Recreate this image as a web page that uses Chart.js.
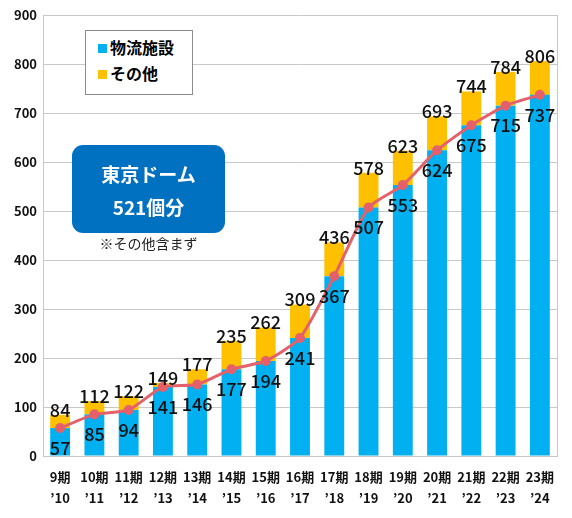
<!DOCTYPE html>
<html>
<head>
<meta charset="utf-8">
<script src="https://cdn.jsdelivr.net/npm/chart.js@4"></script>
<style>
  body { margin: 0; background: #fff; }
  #wrap { position: relative; width: 572px; height: 518px; font-family: "Noto Sans CJK JP", sans-serif; }
  #legend {
    position: absolute; left: 85px; top: 30px; width: 106px; height: 63px;
    border: 1px solid #8c8c8c; background: #fff; font-weight: bold; font-size: 16px;
  }
  #legend .item { position: absolute; left: 12px; line-height: 20px; }
  #legend .sw { display: inline-block; width: 9px; height: 9px; margin-right: 3px; vertical-align: 1px; }
  #dome {
    position: absolute; left: 72px; top: 145px; width: 153px; height: 88px;
    background: #0070c0; border-radius: 11px; color: #fff; font-weight: bold;
    font-size: 19px; text-align: center;
  }
  #note { position: absolute; left: 72px; width: 153px; top: 233px; text-align: center; font-size: 14px; color: #222; }
</style>
</head>
<body>
<div id="wrap">
  <canvas id="chart" width="572" height="518"></canvas>
  <div id="legend">
    <div class="item" style="top:6px"><span class="sw" style="background:#00b0f0"></span>物流施設</div>
    <div class="item" style="top:32px"><span class="sw" style="background:#ffc000"></span>その他</div>
  </div>
  <div id="dome">
    <div style="position:absolute;left:0;right:0;top:17px;line-height:24px">東京ドーム</div>
    <div style="position:absolute;left:0;right:0;top:50px;line-height:24px">521個分</div>
  </div>
  <div id="note">※その他含まず</div>
</div>
<script>
const periods = ['9期', '10期', '11期', '12期', '13期', '14期', '15期', '16期', '17期', '18期', '19期', '20期', '21期', '22期', '23期'];
const years = ['’10', '’11', '’12', '’13', '’14', '’15', '’16', '’17', '’18', '’19', '’20', '’21', '’22', '’23', '’24'];
const logistics = [57, 85, 94, 141, 146, 177, 194, 241, 367, 507, 553, 624, 675, 715, 737];
const totals = [84, 112, 122, 149, 177, 235, 262, 309, 436, 578, 623, 693, 744, 784, 806];
const yTicks = [0, 100, 200, 300, 400, 500, 600, 700, 800, 900];

const others = totals.map((t, i) => t - logistics[i]);
const FONT = '"Noto Sans CJK JP", sans-serif';

const labelPlugin = {
  id: 'labels',
  afterDatasetsDraw(chart) {
    const { ctx, chartArea, scales: { x, y } } = chart;
    ctx.save();
    // plot border right side
    ctx.strokeStyle = '#c8c8c8';
    ctx.lineWidth = 1;
    ctx.beginPath();
    ctx.moveTo(chartArea.right + 0.5, chartArea.top);
    ctx.lineTo(chartArea.right + 0.5, chartArea.bottom);
    ctx.stroke();

    ctx.font = '500 18px ' + FONT;
    ctx.fillStyle = '#111';
    ctx.textAlign = 'center';
    ctx.textBaseline = 'middle';
    totals.forEach((v, i) => {
      ctx.fillText(String(v), x.getPixelForValue(i), y.getPixelForValue(v) - 5);
    });
    logistics.forEach((v, i) => {
      ctx.fillText(String(v), x.getPixelForValue(i), y.getPixelForValue(v) + 20);
    });
    ctx.restore();
  }
};

new Chart(document.getElementById('chart'), {
  type: 'bar',
  data: {
    labels: periods.map((p, i) => [p, years[i]]),
    datasets: [
      {
        type: 'line',
        label: 'line',
        data: logistics,
        borderColor: '#e4606a',
        backgroundColor: '#e4606a',
        borderWidth: 3,
        pointRadius: 3.5,
        tension: 0.2,
        stack: 'line',
        order: 0
      },
      {
        label: '物流施設',
        data: logistics,
        backgroundColor: '#00b0f0',
        stack: 'bars',
        barPercentage: 0.58,
        categoryPercentage: 1,
        order: 1
      },
      {
        label: 'その他',
        data: others,
        backgroundColor: '#ffc000',
        stack: 'bars',
        barPercentage: 0.58,
        categoryPercentage: 1,
        order: 2
      }
    ]
  },
  options: {
    responsive: false,
    animation: false,
    layout: { padding: { left: 0, top: 15, right: 15, bottom: 0 } },
    plugins: { legend: { display: false }, tooltip: { enabled: false } },
    scales: {
      x: {
        stacked: true,
        grid: { display: false, drawTicks: false },
        border: { color: '#c8c8c8' },
        ticks: {
          color: '#111',
          font: { family: FONT, size: 13, weight: 'bold', lineHeight: 1.6 },
          padding: 11,
          maxRotation: 0,
          autoSkip: false
        },
        afterFit(scale) { scale.height = 62; }
      },
      y: {
        stacked: true,
        min: 0,
        max: 900,
        afterBuildTicks(scale) { scale.ticks = yTicks.map(v => ({ value: v })); },
        grid: { color: '#c8c8c8', drawTicks: false },
        border: { color: '#c8c8c8' },
        ticks: {
          color: '#111',
          font: { family: FONT, size: 13, weight: 'bold' },
          padding: 6
        },
        afterFit(scale) { scale.width = 43; }
      }
    }
  },
  plugins: [labelPlugin]
});
</script>
</body>
</html>
